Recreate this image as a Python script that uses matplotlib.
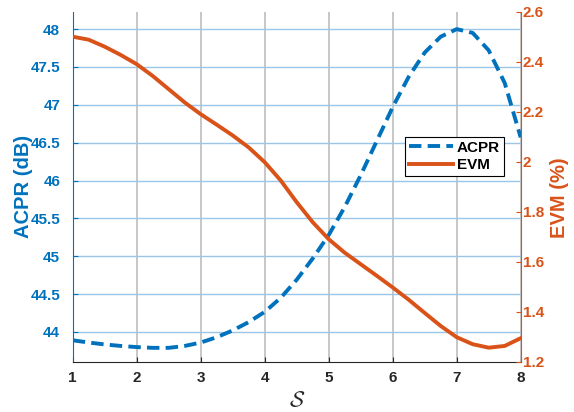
import numpy as np
import matplotlib
matplotlib.use('Agg')
import matplotlib.pyplot as plt
from matplotlib.ticker import FuncFormatter

# values (S from 1 to 8, quarter steps)
s_values = [1, 1.25, 1.5, 1.75, 2, 2.25, 2.5, 2.75, 3, 3.25, 3.5, 3.75, 4, 4.25, 4.5,
            4.75, 5, 5.25, 5.5, 5.75, 6, 6.25, 6.5, 6.75, 7, 7.25, 7.5, 7.75, 8]
acpr_db = [43.89, 43.86, 43.835, 43.815, 43.80, 43.79, 43.79, 43.815, 43.86, 43.93, 44.02,
           44.13, 44.265, 44.45, 44.69, 44.97, 45.28, 45.65, 46.07, 46.52, 46.97, 47.37,
           47.69, 47.90, 48.00, 47.95, 47.72, 47.29, 46.57]
evm_pct = [2.50, 2.488, 2.46, 2.427, 2.39, 2.343, 2.29, 2.237, 2.19, 2.148, 2.105, 2.057,
           1.998, 1.925, 1.838, 1.758, 1.69, 1.636, 1.59, 1.544, 1.497, 1.448, 1.395,
           1.343, 1.298, 1.27, 1.256, 1.263, 1.294]

x_ticks = [1, 2, 3, 4, 5, 6, 7, 8]
acpr_ticks = [44, 44.5, 45, 45.5, 46, 46.5, 47, 47.5, 48]
evm_ticks = [1.2, 1.4, 1.6, 1.8, 2.0, 2.2, 2.4, 2.6]

blue = '#0072BD'
orange = '#D95319'
dark = '#262626'

plt.rcParams['font.family'] = ['Liberation Sans', 'DejaVu Sans']
plt.rcParams['font.weight'] = 'bold'
plt.rcParams['mathtext.fontset'] = 'cm'

fig = plt.figure(figsize=(5.74, 4.12), dpi=100)
ax = fig.add_axes([0.1267, 0.1221, 0.7804, 0.8495])
ax2 = ax.twinx()

# left axis: ACPR
line1, = ax.plot(s_values, acpr_db, color=blue, lw=2.8, linestyle=(0, (3.2, 1.6)),
                 label='ACPR')
ax.set_xlim(1, 8)
ax.set_ylim(43.607, 48.23)
ax.set_xticks(x_ticks)
ax.set_yticks(acpr_ticks)
ax.yaxis.set_major_formatter(FuncFormatter(lambda v, p: '%g' % v))

# right axis: EVM
line2, = ax2.plot(s_values, evm_pct, color=orange, lw=2.8, label='EVM')
ax2.set_ylim(1.2, 2.6)
ax2.set_yticks(evm_ticks)
ax2.yaxis.set_major_formatter(FuncFormatter(lambda v, p: '%g' % round(v, 1)))

# grid
ax.grid(axis='x', color='#bdbdbd', lw=1.2)
ax.grid(axis='y', color='#9cc6e8', lw=1.0)
ax.set_axisbelow(True)

# spines and ticks
for a in (ax, ax2):
    a.spines['top'].set_visible(False)
ax.spines['left'].set_color(blue)
ax.spines['bottom'].set_color(dark)
ax.spines['right'].set_visible(False)
ax2.spines['left'].set_visible(False)
ax2.spines['bottom'].set_visible(False)
ax2.spines['right'].set_color(orange)

ax.tick_params(axis='x', direction='in', length=3.5, colors=dark, labelsize=11, pad=7)
ax.tick_params(axis='y', direction='in', length=3.5, colors=blue, labelsize=11, pad=9)
ax2.tick_params(axis='y', direction='in', length=3.5, colors=orange, labelsize=11, pad=1.5)
for lab in ax.get_xticklabels() + ax.get_yticklabels() + ax2.get_yticklabels():
    lab.set_fontweight('bold')

ax.set_xlabel(r'$\mathcal{S}$', fontsize=16, color=dark, labelpad=4)
ax.set_ylabel('ACPR (dB)', fontsize=14.5, fontweight='bold', color=blue)
ax2.set_ylabel('EVM (%)', fontsize=14.5, fontweight='bold', color=orange)
ax.yaxis.set_label_coords(-0.088, 0.5)
ax2.yaxis.set_label_coords(1.065, 0.47)

leg = ax2.legend(handles=[line1, line2], loc='upper left', bbox_to_anchor=(0.742, 0.642),
                 frameon=True, fancybox=False, edgecolor='black', framealpha=1,
                 prop={'weight': 'bold', 'size': 11}, handlelength=2.9,
                 handletextpad=0.25, borderpad=0.25, labelspacing=0.2, borderaxespad=0)
leg.get_frame().set_linewidth(0.8)

fig.savefig('out.png', dpi=100)
